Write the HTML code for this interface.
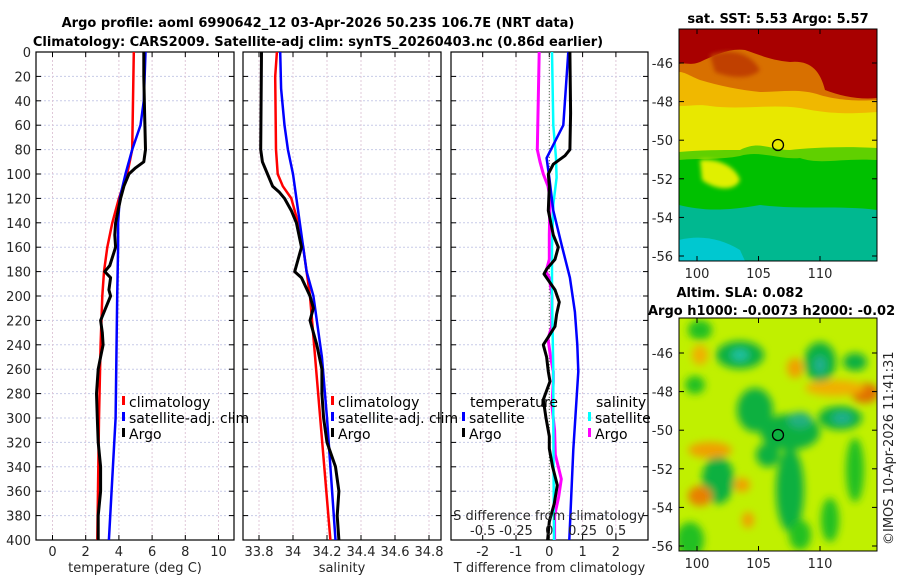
<!DOCTYPE html>
<html><head><meta charset="utf-8"><style>
html,body{margin:0;padding:0;background:#fff;}
svg{display:block;font-family:"DejaVu Sans","Liberation Sans",sans-serif;}
.tk{font-size:13px;fill:#262626;}
.tt{font-size:13px;font-weight:bold;fill:#000;}
.lg{font-size:14px;fill:#000;}
</style></head><body>
<svg id="fig" width="900" height="580" viewBox="0 0 900 580" xmlns="http://www.w3.org/2000/svg">
<defs>
<clipPath id="c1"><rect x="36" y="52" width="198" height="488"/></clipPath>
<clipPath id="c2"><rect x="243" y="52" width="198" height="488"/></clipPath>
<clipPath id="c3"><rect x="451" y="52" width="197" height="488"/></clipPath>
<clipPath id="cm1"><rect x="679" y="29" width="198" height="232"/></clipPath>
<clipPath id="cm2"><rect x="679" y="318" width="198" height="233"/></clipPath>
<filter id="bl" x="-20%" y="-20%" width="140%" height="140%"><feGaussianBlur stdDeviation="4"/></filter>
<filter id="bl2" x="-20%" y="-20%" width="140%" height="140%"><feGaussianBlur stdDeviation="2"/></filter>
</defs>
<text class="tt" x="318" y="27" text-anchor="middle">Argo profile: aoml 6990642_12 03-Apr-2026 50.23S 106.7E (NRT data)</text>
<text class="tt" x="318" y="46" text-anchor="middle">Climatology: CARS2009. Satellite-adj clim: synTS_20260403.nc (0.86d earlier)</text>
<g id="axes"></g>
<g id="marks"></g>

<!-- SST map -->
<g clip-path="url(#cm1)">
<rect x="679" y="29" width="198" height="232" fill="#00c000"/>
<path d="M679,29 H877 V160 C840,158 820,165 800,158 C780,160 760,150 740,156 C720,160 700,158 679,160 Z" fill="#60d000"/>
<path d="M679,29 H877 V148 C840,146 810,148 790,150 C770,150 760,140 740,150 C720,150 700,150 679,152 Z" fill="#e8e800"/>
<path d="M700,160 C715,158 735,165 740,180 C735,192 715,190 702,180 Z" fill="#e0f000" filter="url(#bl2)"/>
<path d="M679,29 H877 V112 C840,115 820,112 800,108 C770,104 740,110 710,106 C700,104 690,106 679,106 Z" fill="#f0b800"/>
<path d="M679,29 H877 V100 C850,102 830,98 820,95 C800,88 780,92 760,92 C740,90 720,86 700,80 C690,76 685,72 679,72 Z" fill="#d87000"/>
<path d="M679,29 H877 V98 C860,100 840,96 825,90 C820,70 810,60 790,62 C770,60 760,55 745,50 C730,48 715,55 700,62 C690,66 685,62 679,64 Z" fill="#a80000"/>
<path d="M710,55 C730,48 750,52 760,70 C750,80 730,78 715,72 Z" fill="#c04000" filter="url(#bl2)"/>
<path d="M679,205 C700,210 720,212 760,205 C800,210 840,205 877,210 V261 H679 Z" fill="#00b890"/>
<path d="M679,240 C700,235 720,238 740,250 L745,261 H679 Z" fill="#00c8d0"/>
<circle cx="778" cy="145" r="5.5" fill="none" stroke="#000" stroke-width="1.3"/>
</g>
<rect x="679" y="29" width="198" height="232" fill="none" stroke="#000" stroke-width="1"/>
<text class="tt" x="778" y="23" text-anchor="middle">sat. SST: 5.53 Argo: 5.57</text>

<!-- SLA map -->
<g clip-path="url(#cm2)">
<rect x="679" y="318" width="198" height="233" fill="#c0f000"/>
<g filter="url(#bl)">
<ellipse cx="740" cy="355" rx="24" ry="14" fill="#10b040"/>
<ellipse cx="740" cy="355" rx="9" ry="6" fill="#20c0a0"/>
<ellipse cx="820" cy="362" rx="16" ry="20" fill="#10b040"/>
<ellipse cx="820" cy="365" rx="6" ry="9" fill="#20b090"/>
<ellipse cx="855" cy="362" rx="12" ry="9" fill="#10b040"/>
<ellipse cx="700" cy="330" rx="12" ry="10" fill="#20c020"/>
<ellipse cx="695" cy="385" rx="10" ry="9" fill="#20c020"/>
<ellipse cx="755" cy="410" rx="18" ry="22" fill="#10b040"/>
<ellipse cx="790" cy="432" rx="30" ry="18" fill="#10b040"/>
<ellipse cx="800" cy="420" rx="12" ry="8" fill="#20b080"/>
<ellipse cx="840" cy="418" rx="22" ry="12" fill="#10b040"/>
<ellipse cx="842" cy="418" rx="10" ry="6" fill="#20b090"/>
<ellipse cx="718" cy="480" rx="16" ry="24" fill="#10b040"/>
<ellipse cx="790" cy="490" rx="14" ry="42" fill="#10b040"/>
<ellipse cx="768" cy="455" rx="12" ry="12" fill="#10b040"/>
<ellipse cx="855" cy="470" rx="9" ry="32" fill="#20c020"/>
<ellipse cx="830" cy="520" rx="9" ry="22" fill="#20c020"/>
<ellipse cx="690" cy="540" rx="14" ry="18" fill="#20c020"/>
<ellipse cx="800" cy="535" rx="11" ry="15" fill="#20c020"/>
<ellipse cx="865" cy="393" rx="14" ry="10" fill="#e07000"/>
<ellipse cx="835" cy="388" rx="30" ry="8" fill="#f0b000"/>
<ellipse cx="795" cy="368" rx="8" ry="10" fill="#f0a000"/>
<ellipse cx="700" cy="496" rx="12" ry="10" fill="#e88000"/>
<ellipse cx="710" cy="450" rx="22" ry="8" fill="#f0a000"/>
<ellipse cx="742" cy="485" rx="8" ry="7" fill="#f0a000"/>
<ellipse cx="748" cy="520" rx="6" ry="8" fill="#f0a000"/>
<ellipse cx="700" cy="355" rx="8" ry="10" fill="#f0b000"/>
</g>
<circle cx="778" cy="435" r="5.5" fill="none" stroke="#000" stroke-width="1.3"/>
</g>
<rect x="679" y="318" width="198" height="233" fill="none" stroke="#000" stroke-width="1"/>
<text class="tt" x="740" y="297" text-anchor="middle">Altim. SLA: 0.082</text>
<text class="tt" x="648" y="315">Argo h1000: -0.0073 h2000: -0.02</text>
<text class="tk" transform="translate(893,545) rotate(-90)">©IMOS 10-Apr-2026 11:41:31</text>
</svg>
<script>
// ---- data ----
const depthTicks = [0,20,40,60,80,100,120,140,160,180,200,220,240,260,280,300,320,340,360,380,400];
const tempTicks = [0,2,4,6,8,10];
const salTicks = [33.8,34,34.2,34.4,34.6,34.8];
const salTickLabels = ["33.8","34","34.2","34.4","34.6","34.8"];
const tdiffTicks = [-2,-1,0,1,2];
const sdiffTicks = [-0.5,-0.25,0,0.25,0.5];
const sdiffTickLabels = ["-0.5","-0.25","0","0.25","0.5"];

const tClimDepth = [0,80,100,120,140,160,180,200,240,300,400];
const tClimVal   = [4.9,4.8,4.5,4.0,3.6,3.3,3.1,3.0,2.9,2.8,2.7];
const tSatDepth = [0,40,60,80,100,120,140,160,200,300,400];
const tSatVal   = [5.6,5.5,5.3,4.8,4.4,4.05,3.95,3.95,3.9,3.8,3.4];
const tArgoDepth = [0,20,50,80,90,95,100,110,120,140,150,160,175,180,185,195,200,210,220,230,240,250,260,280,300,320,340,360,380,400];
const tArgoVal   = [5.5,5.5,5.55,5.6,5.5,5.0,4.6,4.3,4.1,3.8,3.75,3.8,3.45,3.15,3.5,3.4,3.5,3.2,2.9,3.0,3.05,2.9,2.75,2.65,2.7,2.75,2.9,2.9,2.75,2.75];

const sClimDepth = [0,20,80,100,110,120,140,160,180,200,300,400];
const sClimVal   = [33.905,33.895,33.9,33.91,33.94,33.99,34.03,34.06,34.08,34.1,34.16,34.22];
const sSatDepth = [0,30,60,80,100,120,140,160,180,200,250,300,400];
const sSatVal   = [33.925,33.93,33.95,33.97,34.0,34.02,34.04,34.06,34.08,34.12,34.17,34.2,34.25];
const sArgoDepth = [0,80,90,100,110,115,120,130,140,160,175,180,185,200,210,220,240,260,280,300,320,340,350,360,380,400];
const sArgoVal   = [33.815,33.81,33.82,33.85,33.88,33.92,33.95,33.99,34.02,34.05,34.02,34.01,34.05,34.1,34.12,34.1,34.14,34.17,34.17,34.18,34.2,34.25,34.26,34.27,34.26,34.27];

const dTSatDepth = [0,60,87,103,130,158,185,213,240,262,326,400];
const dTSatVal   = [0.57,0.42,-0.08,0.0,0.12,0.37,0.62,0.77,0.84,0.87,0.72,0.6];
const dTArgoDepth = [0,50,80,85,92,100,110,130,150,160,170,178,182,195,205,215,225,240,250,262,270,285,300,315,325,340,355,370,385,400];
const dTArgoVal   = [0.62,0.64,0.62,0.47,0.12,-0.03,0.0,-0.03,0.12,0.27,0.17,-0.08,-0.16,0.17,0.3,0.22,0.17,-0.18,-0.08,-0.03,0.02,-0.18,-0.1,0.0,0.0,0.1,0.24,0.15,0.0,-0.05];
const dSSatDepth = [0,60,87,103,125,160,200,262,300,400];
const dSSatVal   = [0.02,0.03,0.05,0.055,0.03,0.02,0.02,0.03,0.03,0.035];
const dSArgoDepth = [0,80,90,100,110,120,150,170,180,185,200,225,235,250,262,270,290,310,330,350,365,380,400];
const dSArgoVal   = [-0.076,-0.09,-0.07,-0.045,-0.01,0.006,0.0,0.0,-0.025,0.0,0.02,0.018,-0.01,0.01,0.03,0.03,0.02,0.04,0.045,0.09,0.07,0.04,0.04];

const latTicks = [-46,-48,-50,-52,-54,-56];
const lonTicks = [100,105,110];

// ---- scales ----
const Y = d => 52 + d * 1.22;
const X1 = t => 52.5 + t * 16.6;
const X2 = s => 293 + (s - 34) * 170;
const X3 = t => 549.3 + t * 33.3;
const X3s = s => 549.3 + s * 133.2;
const MY1 = lat => 63 + (-46 - lat) * 19.3;
const MY2 = lat => 353 + (-46 - lat) * 19.3;
const MX = lon => 697 + (lon - 100) * 12.3;

const NS = 'http://www.w3.org/2000/svg';
const axes = document.getElementById('axes');
const marks = document.getElementById('marks');
function mk(tag, attrs, parent, txt) {
  const e = document.createElementNS(NS, tag);
  for (const k in attrs) e.setAttribute(k, attrs[k]);
  if (txt !== undefined) e.textContent = txt;
  parent.appendChild(e);
  return e;
}

const panels = [
  {x0:36, x1:234, clip:'c1', X:X1, ticks:tempTicks, labels:tempTicks.map(String), xlabel:'temperature (deg C)', name:'temperature'},
  {x0:243, x1:441, clip:'c2', X:X2, ticks:salTicks, labels:salTickLabels, xlabel:'salinity', name:'salinity'},
  {x0:451, x1:648, clip:'c3', X:X3, ticks:tdiffTicks, labels:tdiffTicks.map(String), xlabel:'T difference from climatology', name:'difference'}
];

panels.forEach(p => {
  const g = mk('g', {}, axes);
  
  
  depthTicks.forEach(d => {
    mk('line', {x1:p.x0, x2:p.x1, y1:Y(d), y2:Y(d), stroke:'#c8cce8', 'stroke-width':1, 'stroke-dasharray':'2,2'}, g);
  });
  p.ticks.forEach(t => {
    const x = p.X(t);
    mk('line', {x1:x, x2:x, y1:52, y2:540, stroke:'#e0c8d8', 'stroke-width':1, 'stroke-dasharray':'2,2'}, g);
    mk('line', {x1:x, x2:x, y1:540, y2:535, stroke:'#000'}, g);
    mk('line', {x1:x, x2:x, y1:52, y2:57, stroke:'#000'}, g);
  });
  depthTicks.forEach(d => {
    mk('line', {x1:p.x0, x2:p.x0 + 5, y1:Y(d), y2:Y(d), stroke:'#000'}, g);
    mk('line', {x1:p.x1, x2:p.x1 - 5, y1:Y(d), y2:Y(d), stroke:'#000'}, g);
  });
  mk('rect', {x:p.x0, y:52, width:p.x1 - p.x0, height:488, fill:'none', stroke:'#000', 'stroke-width':1.2}, g);
  p.ticks.forEach((t, i) => {
    const lab = mk('text', {x:p.X(t), y:556, 'text-anchor':'middle', class:'tk'}, g, p.labels[i]);
    
    
  });
  const xl = mk('text', {x:(p.x0 + p.x1) / 2, y:572, 'text-anchor':'middle', class:'tk'}, g, p.xlabel);
  
  
});

depthTicks.forEach(d => {
  const t = mk('text', {x:31, y:Y(d) + 5, 'text-anchor':'end', class:'tk'}, axes, String(d));
  
  
});

mk('line', {x1:X3(0), x2:X3(0), y1:52, y2:540, stroke:'#507050', 'stroke-width':1, 'stroke-dasharray':'1,2'}, axes);

function series(depths, vals, X, clip, color, w, name) {
  const pts = depths.map((d, i) => X(vals[i]).toFixed(1) + ',' + Y(d).toFixed(1)).join(' ');
  const pl = mk('polyline', {points:pts, fill:'none', stroke:color, 'stroke-width':w, 'stroke-linejoin':'round', 'clip-path':'url(#' + clip + ')'}, marks);
  
  
}
series(tClimDepth, tClimVal, X1, 'c1', '#ff0000', 2.5, 'temp-climatology-line');
series(tSatDepth, tSatVal, X1, 'c1', '#0000ff', 2.5, 'temp-satellite-line');
series(tArgoDepth, tArgoVal, X1, 'c1', '#000000', 3, 'temp-argo-line');
series(sClimDepth, sClimVal, X2, 'c2', '#ff0000', 2.5, 'sal-climatology-line');
series(sSatDepth, sSatVal, X2, 'c2', '#0000ff', 2.5, 'sal-satellite-line');
series(sArgoDepth, sArgoVal, X2, 'c2', '#000000', 3, 'sal-argo-line');
series(dSArgoDepth, dSArgoVal, X3s, 'c3', '#ff00ff', 3, 'sdiff-argo-line');
series(dSSatDepth, dSSatVal, X3s, 'c3', '#00ffff', 2.5, 'sdiff-satellite-line');
series(dTSatDepth, dTSatVal, X3, 'c3', '#0000ff', 2.5, 'tdiff-satellite-line');
series(dTArgoDepth, dTArgoVal, X3, 'c3', '#000000', 3, 'tdiff-argo-line');

const sl = mk('text', {x:549, y:520, 'text-anchor':'middle', class:'tk'}, marks, 'S difference from climatology');


sdiffTicks.forEach((s, i) => {
  const t = mk('text', {x:X3s(s), y:535, 'text-anchor':'middle', class:'tk'}, marks, sdiffTickLabels[i]);
  
  
});

function legendEntry(x, y, color, label) {
  const g = mk('g', {}, marks);
  
  
  mk('rect', {x:x, y:y - 11, width:3, height:9, fill:color}, g);
  mk('text', {x:x + 7, y:y, class:'lg'}, g, label);
}
legendEntry(122, 407, '#ff0000', 'climatology');
legendEntry(122, 423, '#0000ff', 'satellite-adj. clim');
legendEntry(122, 439, '#000000', 'Argo');
legendEntry(331, 407, '#ff0000', 'climatology');
legendEntry(331, 423, '#0000ff', 'satellite-adj. clim');
legendEntry(331, 439, '#000000', 'Argo');
const lt = mk('text', {x:470, y:407, class:'lg'}, marks, 'temperature');


const ls = mk('text', {x:596, y:407, class:'lg'}, marks, 'salinity');


legendEntry(462, 423, '#0000ff', 'satellite');
legendEntry(462, 439, '#000000', 'Argo');
legendEntry(588, 423, '#00ffff', 'satellite');
legendEntry(588, 439, '#ff00ff', 'Argo');

const svg = document.getElementById('fig');
[[MY1, 29, 261], [MY2, 318, 551]].forEach(([MY, top, bot]) => {
  latTicks.forEach(l => {
    const y = MY(l);
    mk('line', {x1:679, x2:684, y1:y, y2:y, stroke:'#000'}, svg);
    mk('line', {x1:877, x2:872, y1:y, y2:y, stroke:'#000'}, svg);
    const t = mk('text', {x:673, y:y + 5, 'text-anchor':'end', class:'tk'}, svg, String(l));
    
    
  });
  lonTicks.forEach(l => {
    const x = MX(l);
    mk('line', {x1:x, x2:x, y1:bot, y2:bot - 5, stroke:'#000'}, svg);
    mk('line', {x1:x, x2:x, y1:top, y2:top + 5, stroke:'#000'}, svg);
    const t = mk('text', {x:x, y:bot + 17, 'text-anchor':'middle', class:'tk'}, svg, String(l));
    
    
  });
});
</script>
</body></html>
